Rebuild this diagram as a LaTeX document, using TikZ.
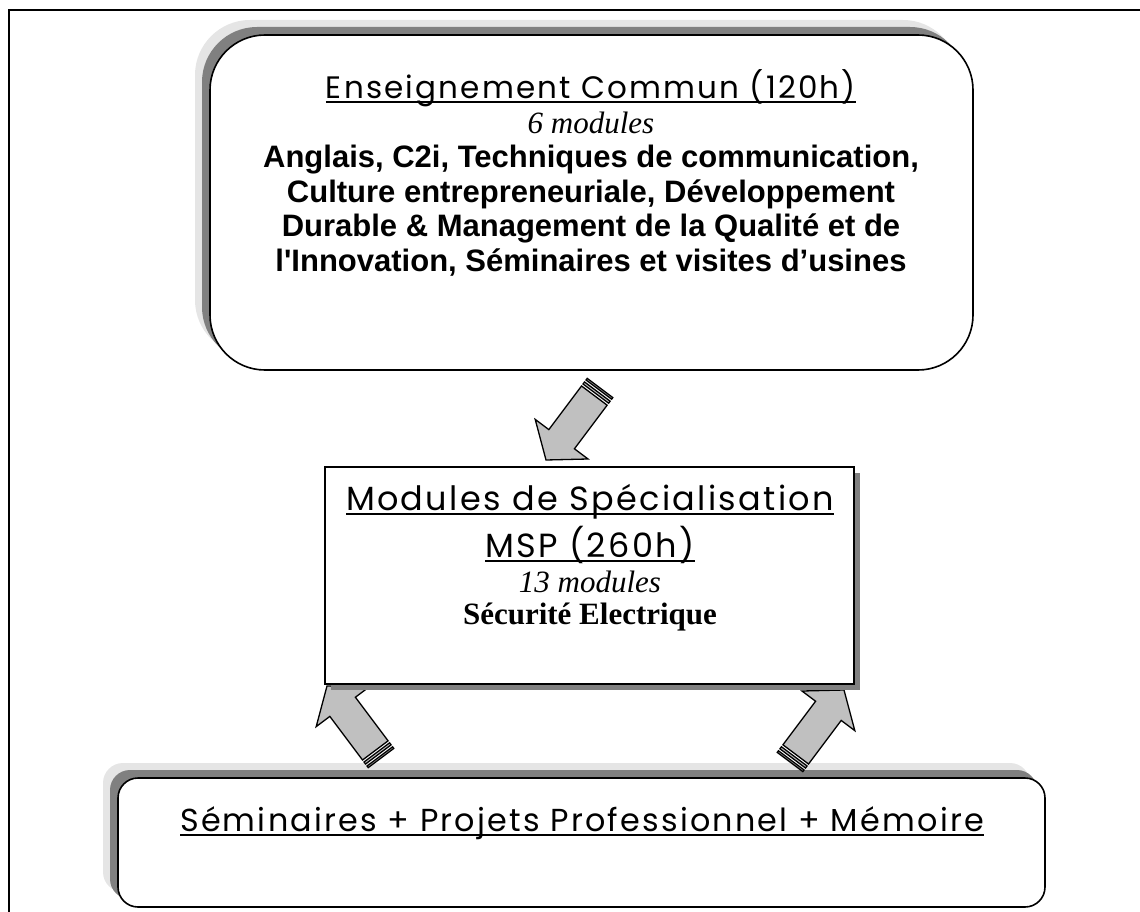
\documentclass[tikz,border=0pt]{standalone}
\usepackage{fontspec}
\setmainfont{Liberation Serif}
\setsansfont{Liberation Sans}
\newfontfamily\gothic{Poppins}[LetterSpace=7]
\usetikzlibrary{shadows}

\definecolor{lightshade}{RGB}{229,229,229}
\definecolor{darkshade}{RGB}{128,128,128}
\definecolor{arrowfill}{RGB}{192,192,192}

\newsavebox\ulbox
\newcommand\uln[1]{\sbox\ulbox{#1}\rlap{\rule[-4.5pt]{\wd\ulbox}{2.2pt}}\usebox\ulbox}

\tikzset{
  roundbox/.style={draw, line width=1.6pt, fill=white, inner sep=0pt,
    copy shadow={shadow xshift=-15pt, shadow yshift=15pt, fill=lightshade, draw=none},
    copy shadow={shadow xshift=-8pt, shadow yshift=8pt, fill=darkshade, draw=none}},
  specbox/.style={draw, line width=1.4pt, fill=white, inner sep=0pt,
    copy shadow={shadow xshift=6pt, shadow yshift=-6pt, fill=darkshade, draw=none}},
  arrowline/.style={draw, fill=arrowfill, line width=1.3pt, line join=miter},
  stripearrow/.pic={
    \path[arrowline] (0,-16) rectangle (2,16);
    \path[arrowline] (4.5,-16) rectangle (7,16);
    \path[arrowline] (9.5,-16) -- (64,-16) -- (64,-33) -- (90,0) -- (64,33) -- (64,16) -- (9.5,16) -- cycle;
  },
  bodytxt/.style={align=center, inner sep=0pt, font=\fontsize{31}{34.5}\selectfont},
  headtxt/.style={inner sep=0pt, font=\gothic\fontsize{31.8}{40}\selectfont}
}

\begin{document}
\begin{tikzpicture}[x=1pt,y=1pt]
\useasboundingbox (0,0) rectangle (1140,-912);
% page frame
\draw[line width=1.6pt] (1140,-10) -- (9,-10) -- (9,-912);

% bottom block
\node[roundbox, rounded corners=20pt, minimum width=927pt, minimum height=129pt] (seminar) at (581.5,-842.5) {};
\node[headtxt] (seminartxt) at (582,-823) {\uln{Séminaires + Projets Professionnel + Mémoire}};

% striped arrows
\coordinate (tailA) at (600,-388);
\coordinate (tailB) at (381,-758);
\coordinate (tailC) at (790,-762);
\pic[rotate=233.13] at (tailA) {stripearrow};
\pic[rotate=126.87] at (tailB) {stripearrow};
\pic[rotate=53.13] at (tailC) {stripearrow};

% specialisation block
\node[specbox, minimum width=529pt, minimum height=217pt] (spec) at (589.5,-575.5) {};
\node[bodytxt] (spectxt) at (590,-558) {{\gothic\fontsize{33.5}{40}\selectfont\uln{Modules de Spécialisation}}\\[6pt]
  {\gothic\fontsize{33.5}{40}\selectfont\uln{MSP (260h)}}\\
  {\itshape 13 modules}\\[-2pt]
  {\bfseries Sécurité Electrique}};

% common block
\node[roundbox, rounded corners=55pt, minimum width=763pt, minimum height=335pt] (common) at (591.5,-202.5) {};
\node[bodytxt] (commontxt) at (591,-173) {{\gothic\fontsize{31}{34.5}\selectfont\uln{Enseignement Commun (120h)}}\\
  {\itshape 6 modules}\\
  {\sffamily\bfseries Anglais, C2i, Techniques de communication,}\\
  {\sffamily\bfseries Culture entrepreneuriale, Développement}\\
  {\sffamily\bfseries Durable \& Management de la Qualité et de}\\
  {\sffamily\bfseries l\textquotesingle Innovation, Séminaires et visites d’usines}};
\end{tikzpicture}
\end{document}
